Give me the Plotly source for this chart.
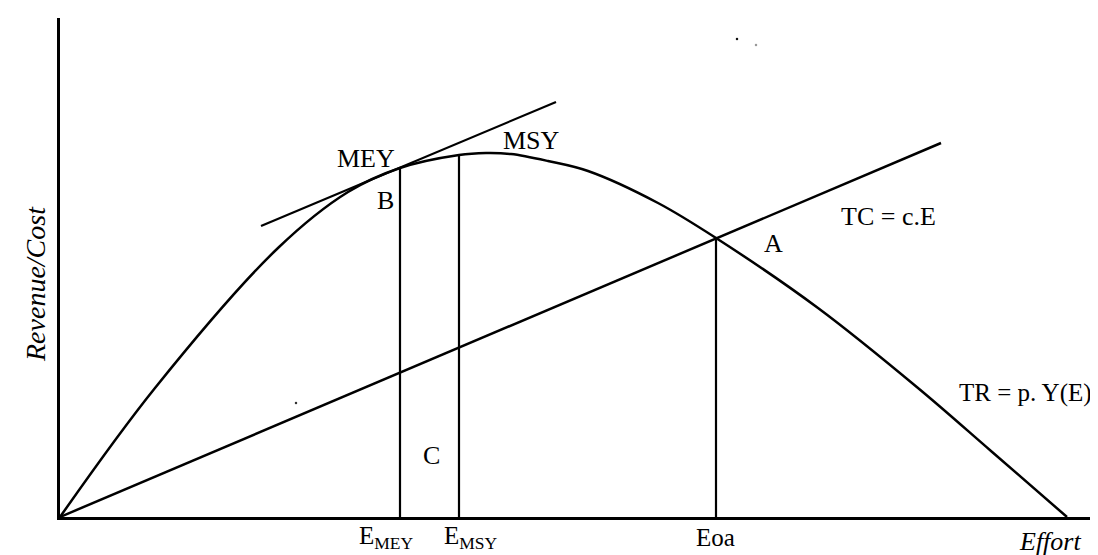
import plotly.graph_objects as go

# ---- data (effort units on x, revenue/cost units on y) ----
tr_effort = [0, 9.5, 21.8, 28.8, 34.0, 39.9, 42.6, 45.1, 48.8, 52.8, 59.8, 65.6, 75.8, 85.8, 93.1, 100.7]
tr_revenue = [0, 12.9, 26.9, 32.5, 34.9, 36.2, 36.4, 36.3, 35.6, 34.6, 31.4, 27.9, 20.9, 12.9, 6.6, 0]

tc_effort = [0, 88.1]
tc_cost = [0, 37.4]

tangent_effort = [20.1, 49.6]
tangent_value = [29.1, 41.5]

effort_marks = [34.0, 39.9, 65.6]          # E_MEY, E_MSY, Eoa
effort_mark_tops = [34.9, 36.2, 27.9]      # TR at those efforts
effort_labels = ["E<sub>MEY</sub>", "E<sub>MSY</sub>", "Eoa"]

speck_x = [67.7, 69.6, 23.6]
speck_y = [47.8, 47.2, 11.4]

point_labels = ["MEY", "MSY", "B", "C", "A", "TC = c.E"]
point_label_x = [30.6, 47.1, 32.5, 37.1, 71.3, 82.8]
point_label_y = [35.9, 37.7, 31.7, 6.2, 27.4, 30.1]

tr_label = "TR = p. Y(E)"
tr_label_x = 103.4   # right end of label
tr_label_y = 12.4

X_MAX = 104.6
Y_MAX = 49.9

FONT = "Liberation Serif, Times New Roman, serif"
BLACK = "#000000"

fig = go.Figure()

# TR curve
fig.add_trace(go.Scatter(x=tr_effort, y=tr_revenue, mode="lines",
                         line=dict(color=BLACK, width=2.5, shape="spline", smoothing=1.0),
                         hoverinfo="skip"))
# TC line
fig.add_trace(go.Scatter(x=tc_effort, y=tc_cost, mode="lines",
                         line=dict(color=BLACK, width=2.5), hoverinfo="skip"))
# tangent at MEY
fig.add_trace(go.Scatter(x=tangent_effort, y=tangent_value, mode="lines",
                         line=dict(color=BLACK, width=2.2), hoverinfo="skip"))
# vertical lines
for e, top in zip(effort_marks, effort_mark_tops):
    fig.add_trace(go.Scatter(x=[e, e], y=[0, top], mode="lines",
                             line=dict(color=BLACK, width=2.2), hoverinfo="skip"))
# scan specks
fig.add_trace(go.Scatter(x=speck_x, y=speck_y, mode="markers",
                         marker=dict(color=["#111111", "#999999", "#333333"], size=2.5),
                         hoverinfo="skip"))

annotations = []
for txt, ax_, ay_ in zip(point_labels, point_label_x, point_label_y):
    annotations.append(dict(x=ax_, y=ay_, xref="x", yref="y", text=txt, showarrow=False,
                            font=dict(family=FONT, size=26, color=BLACK),
                            xanchor="center", yanchor="middle"))
annotations.append(dict(x=tr_label_x, y=tr_label_y, xref="x", yref="y", text=tr_label,
                        showarrow=False, font=dict(family=FONT, size=25, color=BLACK),
                        xanchor="right", yanchor="middle"))

label_shifts = [-14, 12, -1]
for e, txt, sh in zip(effort_marks, effort_labels, label_shifts):
    annotations.append(dict(x=e, y=0, xref="x", yref="y", text=txt, showarrow=False,
                            font=dict(family=FONT, size=25, color=BLACK),
                            xanchor="center", yanchor="middle", xshift=sh, yshift=-20))

annotations.append(dict(x=99.0, y=0, xref="x", yref="y", text="<i>Effort</i>", showarrow=False,
                        font=dict(family=FONT, size=26, color=BLACK),
                        xanchor="center", yanchor="middle", yshift=-24))
annotations.append(dict(x=-25 / 1046, y=23.3, xref="paper", yref="y", text="<i>Revenue/Cost</i>",
                        showarrow=False, textangle=-90,
                        font=dict(family=FONT, size=28, color=BLACK),
                        xanchor="center", yanchor="middle"))

fig.update_layout(
    width=1098, height=555,
    margin=dict(l=52, r=0, t=10, b=46),
    paper_bgcolor="white", plot_bgcolor="white",
    showlegend=False,
    annotations=annotations,
    xaxis=dict(range=[0, X_MAX], showgrid=False, zeroline=False, showticklabels=False,
               ticks="", showline=True, linecolor=BLACK, linewidth=3, fixedrange=True),
    yaxis=dict(range=[0, Y_MAX], showgrid=False, zeroline=False, showticklabels=False,
               ticks="", showline=True, linecolor=BLACK, linewidth=3, fixedrange=True),
)

fig.write_html("out.html", config={"displayModeBar": False})
